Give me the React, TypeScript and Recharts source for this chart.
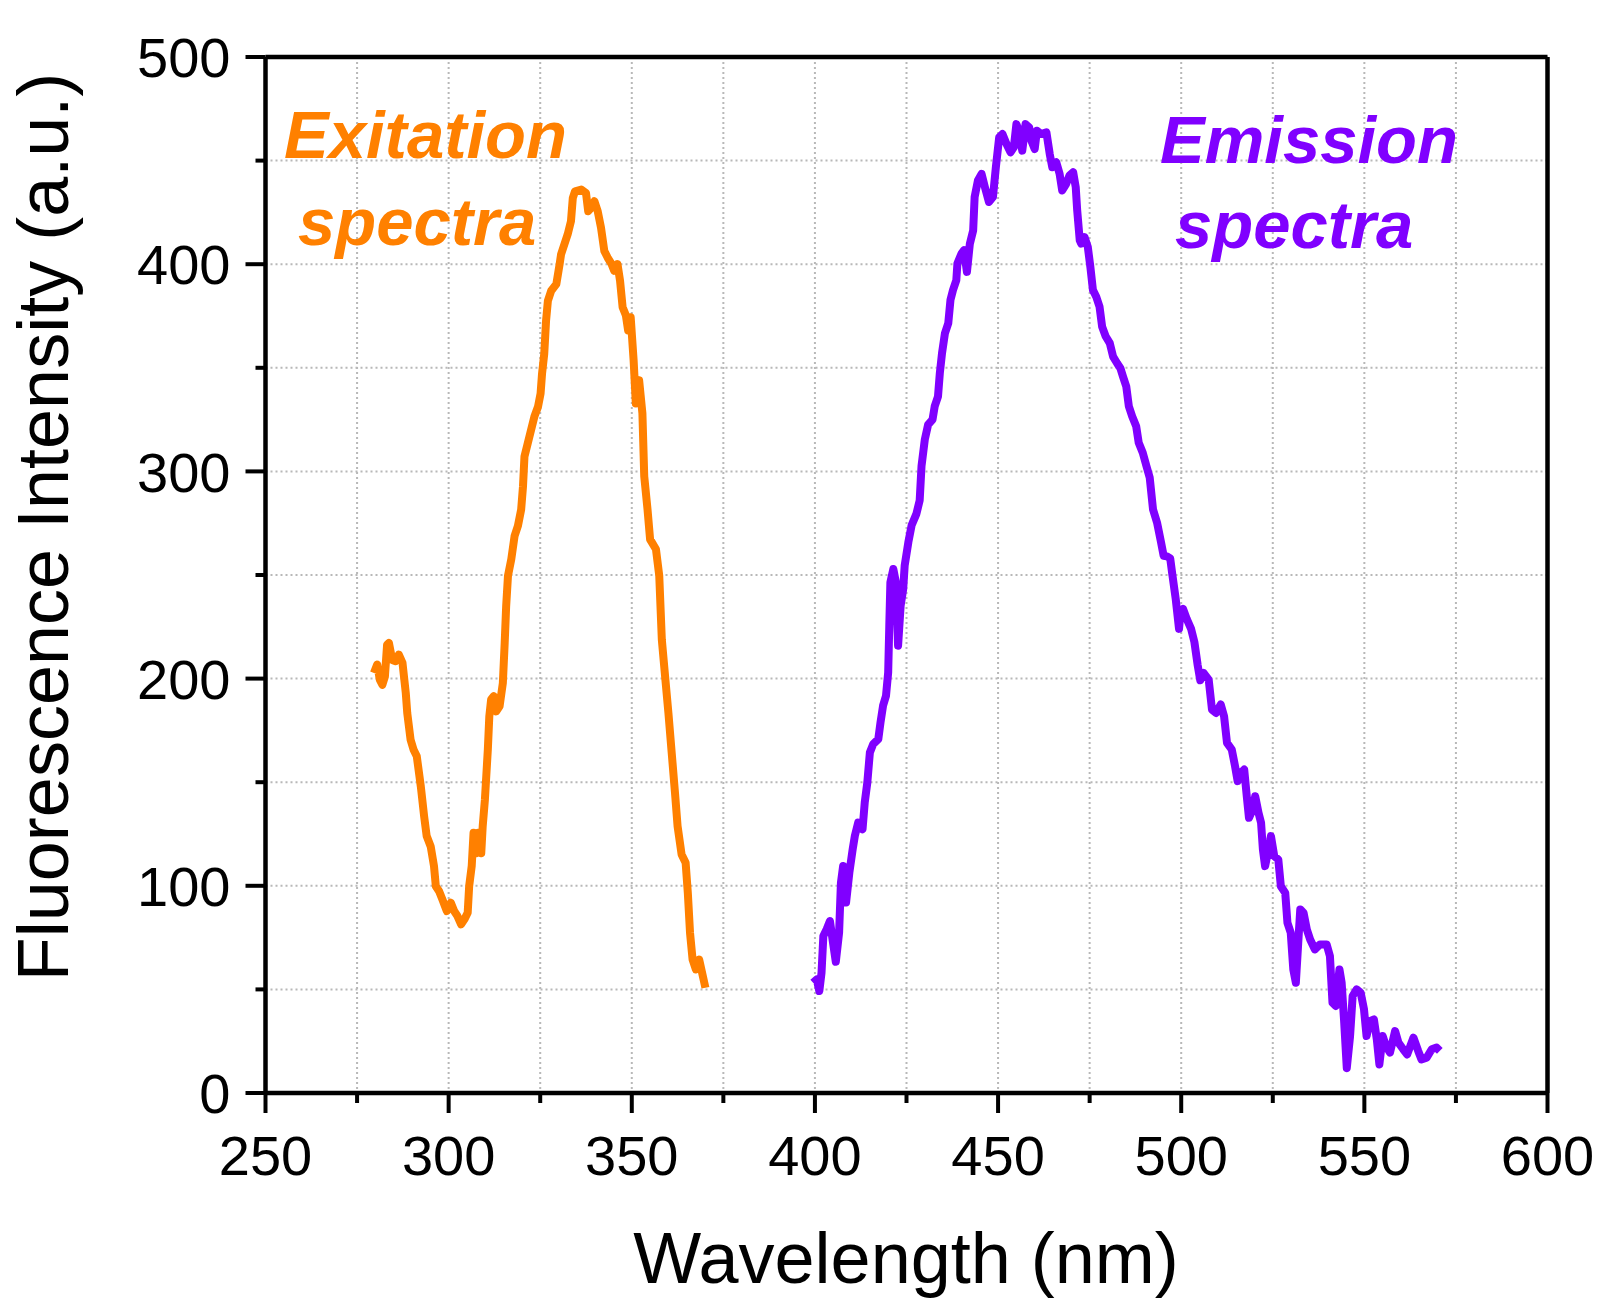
import {
  LineChart,
  Line,
  XAxis,
  YAxis,
  CartesianGrid,
  ReferenceLine,
} from "recharts";

// excitation spectrum (orange)
const exWavelength = [
  279.6, 280.5, 281.2, 281.9, 282.6, 283.2, 283.7, 284.6, 285.5, 286.4, 287.4,
  288.3, 288.7, 289.6, 290.4, 291.3, 292.4, 293.3, 294, 295.1, 296, 296.5,
  297.4, 298.3, 299.5, 300.6, 301.5, 302.4, 303.4, 304.3, 305.2, 305.6, 306.3,
  306.8, 307.5, 308.1, 308.9, 309.3, 309.9, 310.7, 311.1, 311.6, 312.3, 313,
  313.9, 314.8, 315.3, 315.7, 316.2, 317.1, 318, 318.9, 319.8, 320.3, 320.7,
  321.6, 322.5, 323.4, 324.4, 325.1, 325.5, 326.1, 326.6, 327.1, 328, 329.4,
  330.3, 330.7, 331.6, 332.5, 333.4, 333.9, 334.5, 336.2, 337.5, 338.1, 338.9,
  339.8, 340.7, 341.6, 342.5, 343.4, 344.5, 345.2, 346.1, 346.8, 347.5, 348.4,
  349, 349.7, 350.5, 351.1, 352, 352.9, 353.4, 354.3, 355, 356.6, 357.5, 358.2,
  359.1, 360, 360.9, 361.8, 362.5, 363.6, 364.7, 365.3, 365.9, 366.6, 367.5,
  368.4, 369.2, 370.1,
];
const exIntensity = [
  202.7, 206.8, 199.5, 197, 201, 216.4, 217.2, 209, 208.4, 211.6, 207.6, 193,
  183.4, 170.6, 165.8, 162.5, 148, 133.6, 124, 119, 109.5, 99.8, 97.4, 93.4,
  87.8, 91.8, 87.8, 85.4, 81.4, 83.8, 87, 99.8, 109.5, 125.6, 115.7, 125.6,
  115.7, 128.8, 141.6, 165.8, 181.8, 189.9, 191.5, 184.2, 186.6, 197.9, 217.2,
  234.9, 249.6, 257.6, 268.8, 273.6, 281.6, 292.8, 307.2, 313.6, 320, 326.4,
  331.2, 337.6, 347.2, 356.8, 372.8, 382.4, 387.2, 390.4, 400, 404.8, 409.6,
  414.4, 420.8, 432, 435.2, 436, 434.4, 425.6, 427.2, 430.4, 425.6, 417.6,
  406.4, 403.2, 400, 396.8, 400, 392, 379.2, 375.2, 368, 374.4, 353.6, 332.8,
  344, 328, 297.6, 281.6, 267.2, 262.4, 249.6, 218.8, 201, 183.4, 164.1, 144.8,
  128.8, 115.1, 111.1, 96.6, 77.3, 64.4, 59.6, 64.4, 58, 50.8,
];

// emission spectrum (purple)
const emWavelength = [
  399.5, 400.5, 401.2, 401.8, 402.3, 403.2, 404.1, 404.8, 405.7, 406.6, 407.1,
  407.7, 408.5, 409.4, 410.3, 410.9, 411.8, 413, 413.6, 414.3, 415, 415.9,
  417.3, 417.9, 418.6, 419.4, 420, 420.3, 420.6, 421.4, 422.1, 422.7, 423.4,
  424.1, 424.5, 425.5, 426.4, 427.7, 428.6, 429.1, 430, 430.9, 432.1, 432.7,
  433.6, 434.1, 434.7, 435.5, 436.4, 437, 437.7, 438.6, 438.9, 440, 440.7,
  441.5, 442.3, 443.2, 443.6, 444.5, 445.5, 446.4, 447.5, 448.6, 449.4, 450.3,
  451.2, 452.3, 453.4, 454.3, 455, 455.7, 456.6, 457.5, 458.5, 459.1, 460,
  460.6, 461.8, 463.2, 464.1, 464.8, 465.9, 466.8, 467.5, 468.6, 469.5, 470.5,
  471.2, 471.6, 472.3, 472.7, 473.6, 474.5, 475.2, 475.9, 476.8, 477.7, 478.4,
  479.4, 480.5, 481.4, 482.5, 483.4, 484.1, 485, 485.7, 486.6, 487.7, 488.4,
  489.5, 490.5, 491.4, 492.3, 493.4, 494.5, 495.2, 496.1, 497, 497.5, 498.5,
  499.4, 499.8, 500.5, 501.5, 502.7, 503.6, 504.5, 505.2, 506.1, 507.5, 508.4,
  509.5, 510.8, 511.7, 512.5, 513.8, 514.7, 515.4, 516.3, 517.2, 517.9, 518.5,
  519.5, 520.2, 521.1, 521.8, 522.3, 522.9, 523.8, 524.5, 525.4, 526.5, 527.2,
  528.4, 529, 529.9, 530.6, 531.3, 532, 532.5, 533.4, 534.3, 535.2, 536.5,
  537.9, 539.7, 540.6, 541.3, 542.2, 543.2, 543.8, 544.5, 545.2, 546.1, 546.8,
  547.9, 549, 549.9, 550.6, 551.5, 552.6, 553.4, 554.1, 555, 555.9, 557, 558.4,
  559.3, 560.6, 561.7, 563.4, 564.7, 565.6, 567, 568.4, 569.7, 570.6,
];
const emIntensity = [
  53.2, 54.8, 49.2, 58, 75.8, 79, 83, 74.2, 63.3, 77.4, 101.5, 109.6, 91.9,
  106.4, 117.6, 124.1, 130.5, 127.3, 140.2, 149.8, 164.3, 168.4, 170.8, 178.8,
  186.9, 191.7, 203, 225.5, 246.5, 252.9, 246.5, 215.9, 235.2, 243.2, 254.5,
  265.8, 274, 279.5, 286, 302.6, 315.4, 322.6, 325, 331.4, 336.2, 347.4, 357.1,
  366.7, 371.5, 382.7, 387.5, 392.3, 400.3, 405.1, 406.7, 396.3, 409.9, 416.3,
  432.4, 440.4, 443.6, 437.2, 430, 432.4, 446.8, 461.2, 462.8, 458, 454, 456.4,
  467.6, 464.4, 454.8, 467.6, 466, 459.6, 455.6, 464.4, 462.8, 463.6, 453.2,
  446.8, 449.2, 443.6, 435.6, 438.8, 442.8, 444.4, 437.2, 426, 411.5, 409.9,
  413.1, 408.3, 398.7, 387.5, 384.3, 379.5, 369.9, 365.1, 361.9, 355.4, 352.2,
  349.8, 345.8, 341, 331.4, 326.6, 321.8, 313.8, 309, 302.6, 297, 281.7, 275.3,
  265.7, 259.3, 259, 258, 251.2, 238.4, 224, 232, 233.6, 228.8, 224, 217.6,
  206.4, 199.2, 202.7, 199.5, 185, 183.4, 187.5, 181.8, 169, 165.8, 157.7,
  150.5, 154.5, 156.1, 143.2, 132.8, 136.8, 143.2, 135.2, 130.4, 117.5, 109.5,
  117.5, 124, 114.3, 112.7, 99.8, 96.6, 82.2, 77.3, 59.6, 53.2, 74.1, 88.6, 87,
  78.9, 74.1, 69.3, 71.7, 71.7, 66.1, 43.6, 42, 59.6, 53.2, 33.9, 12, 27.5,
  46.8, 50, 48.4, 40.4, 27.5, 34.7, 35.5, 25.9, 13.8, 27.5, 22.7, 19.5, 29.9,
  24.3, 21.1, 18.6, 26.7, 20.3, 16.2, 17, 21.1, 21.9, 20.3,
];

const xTicks = [250, 275, 300, 325, 350, 375, 400, 425, 450, 475, 500, 525, 550, 575, 600];
const yTicks = [0, 50, 100, 150, 200, 250, 300, 350, 400, 450, 500];

const excitation = exWavelength.map((nm, i) => ({ nm, v: exIntensity[i] }));
const emission = emWavelength.map((nm, i) => ({ nm, v: emIntensity[i] }));

const FONT = "'Liberation Sans', Arial, Helvetica, sans-serif";

function XTick({ x, y, payload }: any) {
  const major = payload.value % 50 === 0;
  return (
    <g>
      <line x1={x} x2={x} y1={y} y2={y + (major ? 20 : 10)} stroke="#000" strokeWidth={4} />
      {major && (
        <text x={x} y={y + 82} textAnchor="middle" fontSize={56} fontFamily={FONT} fill="#000">
          {payload.value}
        </text>
      )}
    </g>
  );
}

function YTick({ x, y, payload }: any) {
  const major = payload.value % 100 === 0;
  return (
    <g>
      <line x1={x} x2={x - (major ? 20 : 10)} y1={y} y2={y} stroke="#000" strokeWidth={4} />
      {major && (
        <text x={x - 35} y={y} dy="0.36em" textAnchor="end" fontSize={56} fontFamily={FONT} fill="#000">
          {payload.value}
        </text>
      )}
    </g>
  );
}

export default function App() {
  return (
    <div style={{ position: "absolute", left: 0, top: 0, width: 1611, height: 1310, background: "#fff" }}>
      <LineChart
        width={1611}
        height={1310}
        margin={{ top: 57, right: 63.5, bottom: 117, left: 165.5 }}
      >
        <CartesianGrid stroke="#b8b8b8" strokeWidth={2} strokeDasharray="2 3" />
        <XAxis
          dataKey="nm"
          type="number"
          domain={[250, 600]}
          ticks={xTicks}
          interval={0}
          allowDataOverflow
          height={100}
          tickSize={0}
          tickMargin={0}
          tickLine={false}
          axisLine={{ stroke: "#000", strokeWidth: 4.5 }}
          tick={<XTick />}
        />
        <YAxis
          type="number"
          domain={[0, 500]}
          ticks={yTicks}
          interval={0}
          allowDataOverflow
          width={100}
          tickSize={0}
          tickMargin={0}
          tickLine={false}
          axisLine={{ stroke: "#000", strokeWidth: 4.5 }}
          tick={<YTick />}
        />
        <ReferenceLine y={500} stroke="#000" strokeWidth={4.5} />
        <ReferenceLine x={600} stroke="#000" strokeWidth={4.5} />
        <Line
          data={excitation}
          dataKey="v"
          type="linear"
          stroke="#FF8000"
          strokeWidth={8}
          strokeLinejoin="round"
          dot={false}
          isAnimationActive={false}
        />
        <Line
          data={emission}
          dataKey="v"
          type="linear"
          stroke="#8000FF"
          strokeWidth={8}
          strokeLinejoin="round"
          dot={false}
          isAnimationActive={false}
        />
      </LineChart>
      <svg
        width={1611}
        height={1310}
        style={{ position: "absolute", left: 0, top: 0, pointerEvents: "none" }}
        fontFamily={FONT}
      >
        <text x={906} y={1283} textAnchor="middle" fontSize={72} fill="#000">
          Wavelength (nm)
        </text>
        <text transform="translate(68,527) rotate(-90)" textAnchor="middle" fontSize={72} fill="#000">
          Fluorescence Intensity (a.u.)
        </text>
        <g fontSize={67} fontWeight="bold" fontStyle="italic">
          <text x={284} y={158} fill="#FF8000">Exitation</text>
          <text x={298} y={245} fill="#FF8000">spectra</text>
          <text x={1160} y={163} fill="#8000FF">Emission</text>
          <text x={1175} y={248} fill="#8000FF">spectra</text>
        </g>
      </svg>
    </div>
  );
}
